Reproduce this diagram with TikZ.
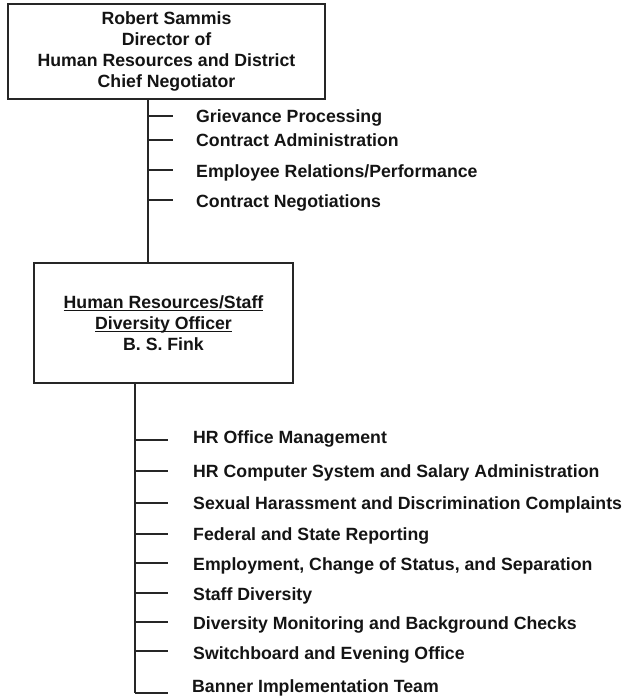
\documentclass[tikz,border=0pt]{standalone}
\usepackage{fontspec}
\setmainfont{Liberation Sans}
\definecolor{linec}{HTML}{262626}
\definecolor{textc}{HTML}{141414}
\newcommand\orgfont{\fontsize{17.7}{21}\selectfont\bfseries}
\newcommand\myul[1]{\setbox0\hbox{#1}\rlap{\rule[-2.8pt]{\wd0}{1.3pt}}\box0}
\tikzset{
  orgbox/.style={draw=linec, line width=1.8pt, fill=white, align=center,
                 font=\orgfont, text=textc, inner sep=0pt},
  item/.style={anchor=base west, font=\orgfont, text=textc, inner sep=0pt},
  conn/.style={draw=linec, line width=1.8pt},
}
\begin{document}
\begin{tikzpicture}[x=1pt,y=-1pt]
\useasboundingbox (0,0) rectangle (629,698);

% boxes
\node[orgbox, minimum width=317pt, minimum height=95pt] (dir) at (166.5,51.5)
  {Robert Sammis\\Director of\\Human Resources and District\\Chief Negotiator};
\node[orgbox, minimum width=259pt, minimum height=120pt] (hr) at (163.5,323)
  {\myul{Human Resources/Staff}\\\myul{Diversity Officer}\\B. S. Fink};

% upper items
\node[item] (g1) at (196,122.3) {Grievance Processing};
\node[item] (g2) at (196,146.3) {Contract Administration};
\node[item] (g3) at (196,177.3) {Employee Relations/Performance};
\node[item] (g4) at (196,207.3) {Contract Negotiations};

% lower items
\node[item] (h1) at (193,443.3) {HR Office Management};
\node[item] (h2) at (193,477.3) {HR Computer System and Salary Administration};
\node[item] (h3) at (193,509.3) {Sexual Harassment and Discrimination Complaints};
\node[item] (h4) at (193,540.3) {Federal and State Reporting};
\node[item] (h5) at (193,570.3) {Employment, Change of Status, and Separation};
\node[item] (h6) at (193,600.3) {Staff Diversity};
\node[item] (h7) at (193,629.3) {Diversity Monitoring and Background Checks};
\node[item] (h8) at (193,659.3) {Switchboard and Evening Office};
\node[item] (h9) at (192,692.3) {Banner Implementation Team};

% upper trunk and ticks
\coordinate (ta) at (148,0);
\draw[conn] (dir.south -| ta) -- (hr.north -| ta);
\coordinate (t1) at (148,116);
\coordinate (t2) at (148,140);
\coordinate (t3) at (148,170);
\coordinate (t4) at (148,200);
\foreach \i in {1,...,4}
  \draw[conn, shorten >=23pt] (t\i) -- (t\i -| g\i.west);

% lower trunk and ticks
\coordinate (c9) at (135,693);
\draw[conn] (hr.south -| c9) -- (c9);
\draw[conn, shorten >=24pt] (c9) -- (c9 -| h9.west);
\coordinate (c1) at (135,440);
\coordinate (c2) at (135,471);
\coordinate (c3) at (135,503);
\coordinate (c4) at (135,534);
\coordinate (c5) at (135,563);
\coordinate (c6) at (135,593);
\coordinate (c7) at (135,622);
\coordinate (c8) at (135,651);
\foreach \i in {1,...,8}
  \draw[conn, shorten >=25pt] (c\i) -- (c\i -| h\i.west);
\end{tikzpicture}
\end{document}
